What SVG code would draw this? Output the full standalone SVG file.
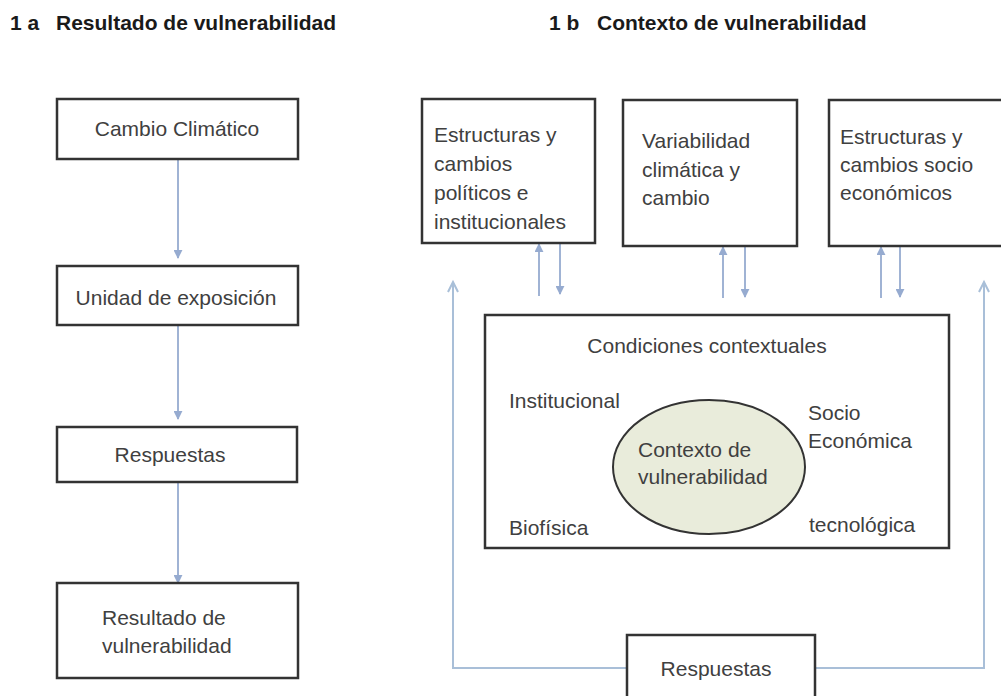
<svg xmlns="http://www.w3.org/2000/svg" width="1001" height="696" viewBox="0 0 1001 696">
<style>
.box{fill:#fff;stroke:#333;stroke-width:2.5}
.t{font-family:"Liberation Sans",Arial,sans-serif;font-size:21px;fill:#404040}
.title{font-family:"Liberation Sans",Arial,sans-serif;font-size:21px;font-weight:bold;fill:#1a1a1a}
.c{text-anchor:middle}
.arr{stroke:#96abd0;stroke-width:1.8;fill:none;marker-end:url(#ah)}
.fb{stroke:#a9bfd8;stroke-width:2;fill:none}
</style>
<defs>
<marker id="ah" viewBox="0 0 10 10" refX="9" refY="5" markerWidth="5" markerHeight="5" orient="auto" markerUnits="strokeWidth">
<path d="M0,0 L10,5 L0,10 z" fill="#96abd0"/>
</marker>
</defs>
<rect width="1001" height="696" fill="#fff"/>
<text class="title" x="10" y="30">1 a</text>
<text class="title" x="56" y="30">Resultado de vulnerabilidad</text>
<text class="title" x="549" y="30">1 b</text>
<text class="title" x="597" y="30">Contexto de vulnerabilidad</text>

<g id="connectors">
<line class="arr" x1="178" y1="160" x2="178" y2="258"/>
<line class="arr" x1="178" y1="326" x2="178" y2="419"/>
<line class="arr" x1="178" y1="483" x2="178" y2="583"/>
<line class="arr" x1="539" y1="296" x2="539" y2="244"/>
<line class="arr" x1="560" y1="244" x2="560" y2="294"/>
<line class="arr" x1="723" y1="298" x2="723" y2="247"/>
<line class="arr" x1="745" y1="247" x2="745" y2="297"/>
<line class="arr" x1="881" y1="298" x2="881" y2="247"/>
<line class="arr" x1="900" y1="247" x2="900" y2="297"/>
<path class="fb" d="M627,668 H453 V284"/>
<path class="fb" d="M815,668 H984 V284"/>
<path d="M448,292 L453,282 L458,292" fill="none" stroke="#a9bfd8" stroke-width="2"/>
<path d="M979,292 L984,282 L989,292" fill="none" stroke="#a9bfd8" stroke-width="2"/>
</g>

<g id="n-cambio">
<rect class="box" x="57" y="99" width="241" height="60"/>
<text class="t c" x="177" y="136">Cambio Climático</text>
</g>
<g id="n-unidad">
<rect class="box" x="57" y="266" width="241" height="59"/>
<text class="t c" x="176" y="305">Unidad de exposición</text>
</g>
<g id="n-respuestas-a">
<rect class="box" x="57" y="427" width="240" height="55"/>
<text class="t c" x="170" y="462">Respuestas</text>
</g>
<g id="n-resultado">
<rect class="box" x="57" y="583" width="241" height="95"/>
<text class="t" x="102" y="625">Resultado de</text>
<text class="t" x="102" y="653">vulnerabilidad</text>
</g>

<g id="n-politicos">
<rect class="box" x="422" y="99" width="173" height="144"/>
<text class="t" x="434" y="142">Estructuras y</text>
<text class="t" x="434" y="171">cambios</text>
<text class="t" x="434" y="200">políticos e</text>
<text class="t" x="434" y="229">institucionales</text>
</g>
<g id="n-variabilidad">
<rect class="box" x="623" y="100" width="174" height="146"/>
<text class="t" x="642" y="148">Variabilidad</text>
<text class="t" x="642" y="177">climática y</text>
<text class="t" x="642" y="205">cambio</text>
</g>
<g id="n-socioeconomicos">
<rect class="box" x="829" y="100" width="185" height="146"/>
<text class="t" x="840" y="144">Estructuras y</text>
<text class="t" x="840" y="172">cambios socio</text>
<text class="t" x="840" y="200">económicos</text>
</g>

<g id="n-condiciones">
<rect class="box" x="485" y="315" width="464" height="233"/>
<text class="t c" x="707" y="353">Condiciones  contextuales</text>
<text class="t" x="509" y="408">Institucional</text>
<text class="t" x="808" y="420">Socio</text>
<text class="t" x="808" y="448">Económica</text>
<text class="t" x="509" y="535">Biofísica</text>
<text class="t" x="809" y="532">tecnológica</text>
</g>
<g id="n-contexto">
<ellipse cx="709" cy="467" rx="96" ry="67" fill="#e9ecdb" stroke="#333" stroke-width="2"/>
<text class="t" x="638" y="457">Contexto de</text>
<text class="t" x="638" y="484">vulnerabilidad</text>
</g>
<g id="n-respuestas-b">
<rect class="box" x="627" y="635" width="188" height="70"/>
<text class="t c" x="716" y="676">Respuestas</text>
</g>
</svg>
